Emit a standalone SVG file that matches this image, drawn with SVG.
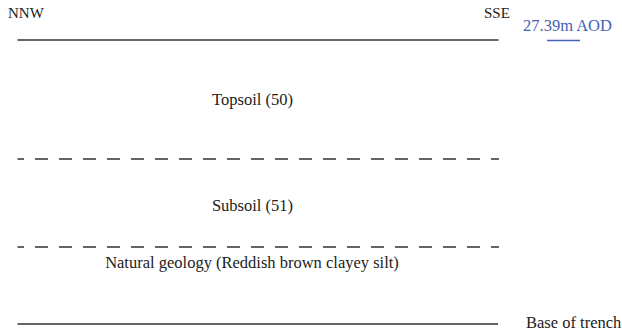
<svg xmlns="http://www.w3.org/2000/svg" width="622" height="334" viewBox="0 0 622 334">
<style>
text{font-family:"Liberation Serif","Times New Roman",serif;font-size:16.5px;fill:#222}
.s{font-size:15px}
.c{text-anchor:middle}
.blue{fill:#4462b5}
.solid{stroke:#333;stroke-width:1.3;fill:none}
.dash{stroke:#333;stroke-width:1.3;fill:none;stroke-dasharray:13 11;stroke-dashoffset:6.5}
</style>
<rect width="622" height="334" fill="#fff"/>
<g id="connectors">
<line class="solid" x1="17.5" y1="40" x2="498.5" y2="40"/>
<line class="dash" x1="17.5" y1="159" x2="499" y2="159"/>
<line class="dash" x1="17.5" y1="247" x2="499" y2="247"/>
<line class="solid" x1="17.5" y1="324" x2="498" y2="324"/>
<line x1="547" y1="40.5" x2="580" y2="40.5" stroke="#4462b5" stroke-width="1.5"/>
</g>
<g id="labels">
<text class="s" x="8" y="18">NNW</text>
<text class="s" x="484" y="18">SSE</text>
<text class="blue" x="523" y="31">27.39m AOD</text>
<text x="526" y="328">Base of trench</text>
</g>
<g id="topsoil"><text class="c" x="252.5" y="105">Topsoil (50)</text></g>
<g id="subsoil"><text class="c" x="252.5" y="211">Subsoil (51)</text></g>
<g id="natural"><text class="c" x="252" y="268">Natural geology (Reddish brown clayey silt)</text></g>
</svg>
